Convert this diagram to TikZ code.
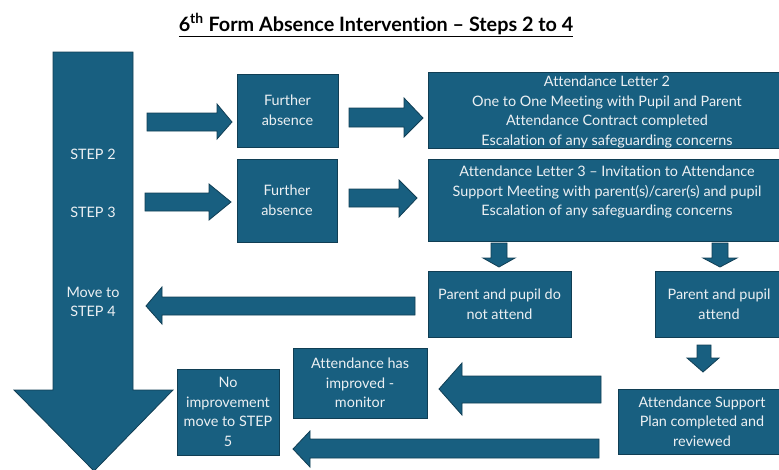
\documentclass[tikz,border=0pt]{standalone}
\usepackage{fontspec}
\setmainfont{Lato}[Ligatures=NoCommon]
\definecolor{boxfill}{RGB}{24,95,128}
\definecolor{boxline}{RGB}{16,62,84}
\definecolor{boxtext}{RGB}{236,240,243}
\begin{document}
\begin{tikzpicture}[x=1pt,y=-1pt,
  box/.style={draw=boxline,line width=0.8pt,fill=boxfill,text=boxtext,align=center,
    font=\fontsize{14.4}{19.6}\selectfont,inner sep=0pt},
  blk/.style={draw=boxline,line width=0.8pt,fill=boxfill},
  txt/.style={text=boxtext,align=center,font=\fontsize{14.4}{19.6}\selectfont,inner sep=0pt}]
\useasboundingbox (0,0) rectangle (779,469);
\begin{scope}
\clip (0,0) rectangle (779,469);
% title
\node[font=\fontsize{19.8}{22}\selectfont\bfseries,anchor=base,inner sep=0pt] (title) at (376,31)
  {\underline{6\textsuperscript{th} Form Absence Intervention -- Steps 2 to 4}};
% big down arrow
\draw[blk] (53,52) -- (133,52) -- (133,390) -- (173,390) -- (94,471) -- (14,390) -- (53,390) -- cycle;
\node[txt] (s2) at (93,154) {STEP 2};
\node[txt] (s3) at (93,212) {STEP 3};
\node[txt] (s4) at (93,302) {Move to\\STEP 4};
% boxes
\node[box,minimum width=101,minimum height=73] (fa1) at (287.5,110.5) {Further\\absence};
\node[box,minimum width=100,minimum height=83] (fa2) at (287,200.5) {Further\\absence};
\node[box,minimum width=358,minimum height=76] (l2) at (607,110) {};
\node[txt] (l2t) at ([yshift=-2]l2.center) {Attendance Letter 2\\One to One Meeting with Pupil and Parent\\Attendance Contract completed\\Escalation of any safeguarding concerns};
\node[box,minimum width=358,minimum height=82] (l3) at (607,200) {};
\node[txt,anchor=north] (l3t) at ([yshift=-7]l3.north) {Attendance Letter 3 -- Invitation to Attendance\\Support Meeting with parent(s)/carer(s) and pupil\\Escalation of any safeguarding concerns};
\node[box,minimum width=143,minimum height=66] (na) at (499.5,304) {Parent and pupil do\\not attend};
\node[box,minimum width=128,minimum height=66] (pa) at (719,304) {Parent and pupil\\attend};
\node[box,minimum width=168,minimum height=65] (sp) at (702,421.5) {Attendance Support\\Plan completed and\\reviewed};
\node[box,minimum width=134,minimum height=70] (ai) at (360,383) {Attendance has\\improved -\\monitor};
\node[box,minimum width=102,minimum height=86] (ni) at (228,412) {No\\improvement\\move to STEP\\5};
% right block arrows
\draw[blk] (147,113) -- (217,113) -- (217,104) -- (232,122) -- (217,139) -- (217,131) -- (147,131) -- cycle;
\draw[blk] (145,193) -- (209,193) -- (209,184) -- (231,202) -- (209,220) -- (209,211) -- (145,211) -- cycle;
\draw[blk] (349,108) -- (404,108) -- (404,98) -- (423,118) -- (404,137) -- (404,127) -- (349,127) -- cycle;
\draw[blk] (349,189) -- (399,189) -- (399,180) -- (417,198) -- (399,217) -- (399,207) -- (349,207) -- cycle;
% left block arrows
\draw[blk] (415,297) -- (162,297) -- (162,287) -- (146,306) -- (162,324) -- (162,315) -- (415,315) -- cycle;
\draw[blk] (601,376) -- (462,376) -- (462,363) -- (439,389) -- (462,415) -- (462,403) -- (601,403) -- cycle;
\draw[blk] (599,439) -- (310,439) -- (310,431) -- (293,449) -- (310,467) -- (310,458) -- (599,458) -- cycle;
% down block arrows
\draw[blk] (491,243) -- (507,243) -- (507,258) -- (515,258) -- (499,267) -- (483,258) -- (491,258) -- cycle;
\draw[blk] (712,243) -- (728,243) -- (728,258) -- (737,258) -- (720,267) -- (703,258) -- (712,258) -- cycle;
\draw[blk] (697,345) -- (711,345) -- (711,358) -- (719,358) -- (703,372) -- (687,358) -- (697,358) -- cycle;
\end{scope}
\end{tikzpicture}
\end{document}
